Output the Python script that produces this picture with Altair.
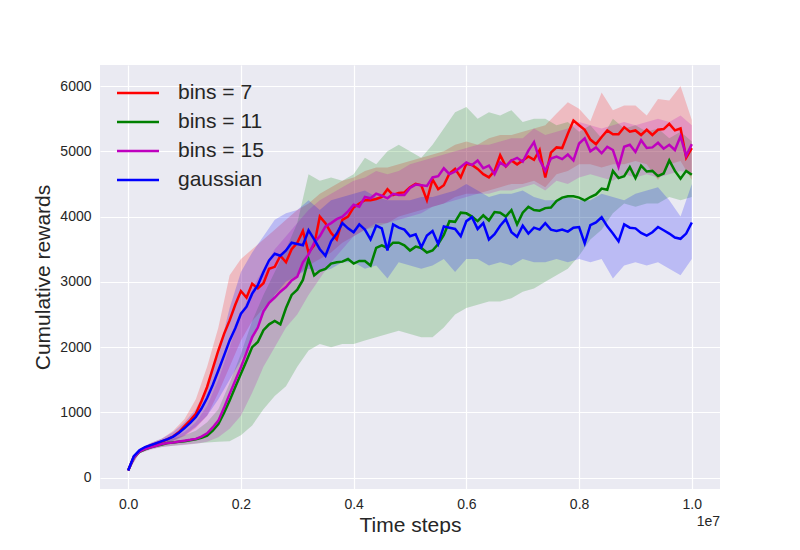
import altair as alt
import pandas as pd

SERIES = ["bins = 7", "bins = 11", "bins = 15", "gaussian"]
COLORS = ["#ff0000", "#008000", "#bf00bf", "#0000ff"]

# x positions (time steps) of the mean curves and of the band edges
LINE_STEPS = [i * 100000 for i in range(101)]
BAND_STEPS = [i * 200000 for i in range(51)]

# ---- mean curves (every 1e5 steps) ----
RED = [110, 320, 410, 460, 495, 525, 555, 590, 635, 700,
       790, 880, 980, 1170, 1390, 1670, 1949, 2200, 2410, 2650,
       2860, 2760, 2970, 2900, 2980, 3200, 3230, 3400, 3300, 3500,
       3600, 3780, 3450, 3560, 4000, 3900, 3750, 3650, 3950, 4000,
       4140, 4200, 4250, 4250, 4270, 4300, 4420, 4330, 4360, 4370,
       4450, 4500, 4480, 4250, 4570, 4420, 4480, 4660, 4730, 4600,
       4810, 4790, 4730, 4650, 4600, 4700, 4940, 4770, 4860, 4800,
       4860, 4920, 4870, 5020, 4600, 4980, 5060, 5050, 5270, 5470,
       5400, 5330, 5180, 5110, 5220, 5320, 5260, 5260, 5370, 5300,
       5320, 5250, 5330, 5250, 5330, 5340, 5420, 5320, 5350, 4900, 5050]
GREEN = [110, 310, 395, 435, 465, 490, 510, 530, 540, 550,
         560, 575, 590, 610, 645, 720, 823, 990, 1181, 1390,
         1591, 1790, 2000, 2080, 2260, 2350, 2400, 2350, 2600, 2800,
         2880, 3030, 3350, 3100, 3170, 3200, 3280, 3300, 3310, 3350,
         3280, 3320, 3320, 3250, 3520, 3560, 3520, 3600, 3600, 3560,
         3480, 3540, 3520, 3450, 3480, 3580, 3720, 3930, 3920, 4060,
         4050, 4000, 3930, 4020, 3940, 4070, 4060, 4000, 4100, 3880,
         4060, 4150, 4100, 4090, 4130, 4140, 4240, 4290, 4310, 4310,
         4290, 4250, 4300, 4340, 4430, 4410, 4700, 4590, 4620, 4760,
         4590, 4780, 4690, 4700, 4620, 4660, 4860, 4700, 4580, 4700, 4640]
MAGENTA = [110, 310, 400, 440, 465, 490, 515, 530, 540, 555,
           567, 580, 595, 630, 680, 770, 874, 1070, 1284, 1490,
           1693, 1920, 2154, 2300, 2550, 2680, 2760, 2850, 2920, 3020,
           3080, 3300, 3420, 3600, 3700, 3850, 3900, 3960, 4000, 4080,
           4180, 4150, 4300, 4280, 4350, 4320, 4280, 4350, 4330, 4330,
           4440, 4490, 4480, 4470, 4600, 4620, 4740, 4650, 4690, 4760,
           4830, 4790, 4860, 4740, 4780, 4650, 4830, 4770, 4860, 4900,
           4840, 5010, 5140, 4870, 4700, 4890, 4920, 4880, 4950, 4860,
           5120, 5200, 5000, 5060, 4970, 5070, 5020, 4760, 5070, 5100,
           4990, 5170, 5050, 5060, 5130, 5040, 5100, 5020, 5230, 4930, 5110]
BLUE = [110, 330, 420, 470, 500, 530, 560, 590, 630, 690,
        760, 840, 930, 1060, 1220, 1420, 1642, 1870, 2103, 2290,
        2512, 2620, 2819, 2950, 3150, 3330, 3430, 3400, 3480, 3600,
        3580, 3560, 3790, 3650, 3500, 3400, 3620, 3740, 3900, 3820,
        3760, 3880, 3800, 3650, 3860, 3820, 3480, 3880, 3830, 3800,
        3700, 3730, 3530, 3710, 3780, 3580, 3850, 3830, 3810, 3700,
        3930, 3990, 3810, 3900, 3650, 3730, 3860, 3960, 3760, 3690,
        3860, 3740, 3830, 3800, 3900, 3800, 3780, 3800, 3770, 3830,
        3840, 3590, 3870, 3910, 3990, 3850, 3740, 3620, 3880, 3830,
        3820, 3750, 3710, 3760, 3840, 3790, 3740, 3680, 3660, 3740, 3910]

# ---- shaded bands (every 2e5 steps) ----
RED_HI = [130, 440, 530, 600, 720, 900, 1200, 1700, 2300, 3100,
          3350, 3500, 3650, 3800, 3950, 4100, 4200, 4350, 4450, 4550,
          4600, 4700, 4750, 4750, 4800, 4850, 4900, 4950, 5000, 5100,
          5150, 5100, 5200, 5250, 5250, 5300, 5350, 5400, 5580, 5750,
          5650, 5460, 5900, 5630, 5700, 5700, 5550, 5800, 5780, 6000, 5480]
RED_LO = [100, 390, 470, 520, 560, 640, 760, 950, 1300, 1700,
          2100, 2400, 2600, 2800, 2950, 3100, 3250, 3350, 3450, 3600,
          3700, 3800, 3850, 3900, 4000, 4050, 4100, 4150, 4200, 4300,
          4350, 4350, 4400, 4450, 4500, 4500, 4550, 4450, 4650, 4700,
          4800, 4800, 4750, 4800, 4800, 4850, 4800, 4560, 4800, 4850, 4560]
GREEN_HI = [130, 430, 500, 550, 600, 650, 720, 850, 1050, 1450,
            1900, 2400, 2800, 3150, 3500, 3900, 4650, 4550, 4600, 4550,
            4650, 4900, 4800, 5000, 5100, 5000, 4900, 5100, 5350, 5600,
            5680, 5500, 5600, 5550, 5630, 5450, 5500, 5500, 5400, 5450,
            5300, 5400, 5200, 5500, 5350, 5400, 5300, 5350, 5200, 5300, 5150]
GREEN_LO = [100, 380, 440, 470, 490, 510, 525, 540, 550, 560,
            650, 800, 1050, 1250, 1400, 1700, 1950, 2050, 2000, 2050,
            2050, 2100, 2150, 2200, 2250, 2200, 2150, 2150, 2300, 2500,
            2600, 2650, 2700, 2700, 2750, 2850, 2900, 3000, 3100, 3200,
            3400, 3650, 3800, 4050, 4200, 4150, 4200, 4200, 4300, 4250, 4300]
MAGENTA_HI = [130, 430, 500, 560, 620, 700, 850, 1100, 1500, 2000,
              2500, 2900, 3200, 3500, 3700, 3900, 4100, 4250, 4350, 4450,
              4550, 4600, 4700, 4650, 4700, 4800, 4850, 4900, 4950, 5000,
              5050, 5100, 5100, 5150, 5200, 5200, 5350, 5250, 5300, 5350,
              5450, 5400, 5350, 5400, 5450, 5400, 5450, 5500, 5450, 5550, 5400]
MAGENTA_LO = [100, 370, 430, 470, 490, 500, 520, 550, 620, 750,
              950, 1300, 1700, 2000, 2300, 2500, 2800, 3050, 3300, 3500,
              3700, 3800, 3900, 3900, 3950, 4000, 4050, 4150, 4200, 4250,
              4300, 4350, 4350, 4400, 4400, 4450, 4500, 4400, 4550, 4500,
              4600, 4650, 4600, 4550, 4650, 4600, 4650, 4600, 4650, 4700, 4650]
BLUE_HI = [130, 440, 530, 600, 700, 850, 1050, 1400, 1900, 2600,
           3150, 3450, 3700, 3950, 4050, 4100, 4250, 4100, 4250, 4300,
           4350, 4400, 4300, 4250, 4250, 4250, 4300, 4300, 4350, 4400,
           4500, 4400, 4300, 4350, 4350, 4400, 4300, 4250, 4250, 4300,
           4250, 4250, 4350, 4300, 4250, 4350, 4400, 4450, 4250, 4000, 4500]
BLUE_LO = [100, 400, 470, 520, 570, 650, 780, 950, 1200, 1500,
           1800, 2100, 2500, 2800, 3000, 3100, 3200, 3150, 3200, 3300,
           3300, 3200, 3250, 3050, 3300, 3250, 3200, 3250, 3350, 3150,
           3350, 3350, 3250, 3300, 3250, 3350, 3300, 3300, 3350, 3300,
           3350, 3300, 3350, 3050, 3250, 3300, 3250, 3300, 3200, 3100, 3350]

X_TICKS = [0, 2000000, 4000000, 6000000, 8000000, 10000000]
Y_TICKS = [0, 1000, 2000, 3000, 4000, 5000, 6000]

means = [RED, GREEN, MAGENTA, BLUE]
his = [RED_HI, GREEN_HI, MAGENTA_HI, BLUE_HI]
los = [RED_LO, GREEN_LO, MAGENTA_LO, BLUE_LO]

line_rows = []
band_rows = []
for k, name in enumerate(SERIES):
    for s, v in zip(LINE_STEPS, means[k]):
        line_rows.append({"step": s, "value": v, "series": name, "k": k})
    for s, lo, hi in zip(BAND_STEPS, los[k], his[k]):
        band_rows.append({"step": s, "lo": lo, "hi": hi, "series": name, "k": k})
lines_df = pd.DataFrame(line_rows)
bands_df = pd.DataFrame(band_rows)

FONT = "Liberation Sans"
TXT = "#262626"

x_scale = alt.Scale(domain=[-500000, 10500000], nice=False, zero=False)
y_scale = alt.Scale(domain=[-173, 6322], nice=False, zero=False)
color_scale = alt.Scale(domain=SERIES, range=COLORS)

x_axis = alt.Axis(values=X_TICKS, labelExpr="format(datum.value / 10000000, '.1f')",
                  title="Time steps", grid=True, gridColor="white", gridWidth=1.2,
                  ticks=False, domain=False, labelPadding=8, labelFontSize=14,
                  labelColor=TXT, titleFontSize=21, titleColor=TXT,
                  titleFontWeight="normal", titlePadding=3, labelFont=FONT, titleFont=FONT)
y_axis = alt.Axis(values=Y_TICKS, format="d", title="Cumulative rewards", grid=True,
                  gridColor="white", gridWidth=1.2, ticks=False, domain=False,
                  labelPadding=9, labelFontSize=14, labelColor=TXT, titleFontSize=21,
                  titleColor=TXT, titleFontWeight="normal", titlePadding=6,
                  labelFont=FONT, titleFont=FONT)

bands = alt.Chart(bands_df).mark_area(opacity=0.2, clip=True).encode(
    x=alt.X("step:Q", scale=x_scale, axis=x_axis),
    y=alt.Y("lo:Q", scale=y_scale, axis=y_axis),
    y2="hi:Q",
    color=alt.Color("series:N", scale=color_scale, legend=None),
    order=alt.Order("k:Q"),
)

lines = alt.Chart(lines_df).mark_line(strokeWidth=2.5, clip=True).encode(
    x=alt.X("step:Q", scale=x_scale, axis=x_axis),
    y=alt.Y("value:Q", scale=y_scale, axis=y_axis),
    color=alt.Color("series:N", scale=color_scale, sort=SERIES,
                    legend=alt.Legend(title=None, orient="none", legendX=26, legendY=16,
                                      symbolType="M-2,0L2,0", symbolSize=441,
                                      symbolStrokeWidth=2.5, labelFontSize=21,
                                      labelFont=FONT, labelColor=TXT, labelOffset=28,
                                      rowPadding=7, padding=0)),
    order=alt.Order("step:Q"),
)

offset_txt = alt.Chart(pd.DataFrame({"t": ["1e7"]})).mark_text(
    align="right", baseline="middle", fontSize=14, color=TXT, font=FONT
).encode(x=alt.value(620), y=alt.value(457), text="t:N")

chart = alt.layer(bands, lines, offset_txt).resolve_legend(color="independent").properties(
    width=620, height=424,
    autosize=alt.AutoSizeParams(type="none"),
    padding={"left": 92, "top": 57, "right": 60, "bottom": 45},
).configure(font=FONT).configure_view(fill="#EAEAF2", stroke=None)

chart.save("out.html", embed_options={"renderer": "svg", "actions": False})
